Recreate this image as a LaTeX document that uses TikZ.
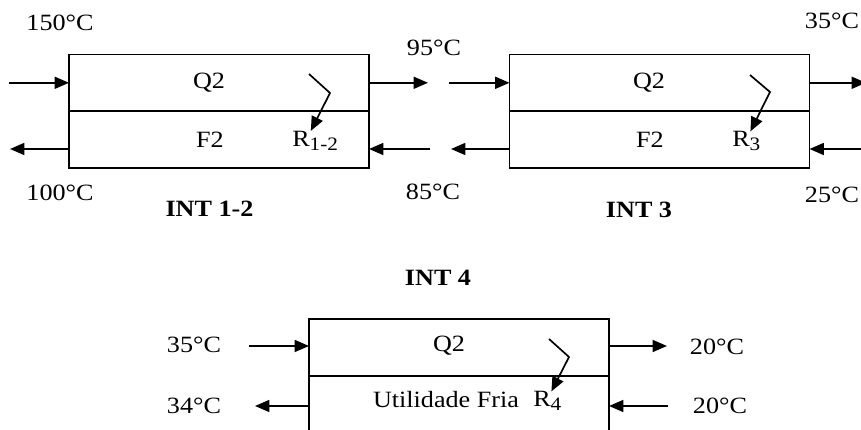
\documentclass[tikz,border=0pt]{standalone}
\usepackage{fontspec}
\setmainfont{Liberation Serif}[FakeStretch=1.12]
\usepackage{tikz}
\usetikzlibrary{arrows.meta, positioning}

\tikzset{
  metade/.style={draw, line width=1.2pt, outer sep=0pt, inner sep=0pt,
    minimum width=7.5cm, minimum height=1.42cm},
  fluxo/.style={line width=1.2pt, -{Triangle[length=3.6mm, width=3mm]}},
  rres/.style={inner sep=0pt, anchor=base west},
}
\newcommand{\rsub}[1]{R\raisebox{-0.1cm}{\fontsize{13.5}{15}\selectfont #1}}

\begin{document}
\begin{tikzpicture}[font=\fontsize{16.6}{19}\selectfont]
    \useasboundingbox (0,0) rectangle (21.525,10.75);
    \clip (0,0) rectangle (21.525,10.75);

    % Trocador INT 1-2
    \node[metade] (q12) at (5.475,8.68) {};
    \node[metade, below=0pt of q12] (f12) {};
    \node (lq12) at (5.225,8.68) {Q2};
    \node (lf12) at (5.25,7.25) {F2};
    \node[rres] (r12) at (7.3,7.0875) {\rsub{1-2}};
    \coordinate (s12) at (7.725,8.9);
    \draw[fluxo] (s12) -- ++(0.525,-0.475) -- ([xshift=0.47cm]r12.north west);

    \coordinate (a1) at (0.225,8.68);
    \coordinate (b1) at (0.25,7.025);
    \coordinate (c1) at (10.7,8.68);
    \coordinate (d1) at (10.75,7.025);
    \draw[fluxo] (a1) -- (a1 -| q12.west);
    \draw[fluxo] (b1 -| f12.west) -- (b1);
    \draw[fluxo] (c1 -| q12.east) -- (c1);
    \draw[fluxo] (d1) -- (d1 -| f12.east);

    \node (t150) at (1.5,10.175) {150°C};
    \node (t100) at (1.5,5.925) {100°C};
    \node (t95) at (10.85,9.55) {95°C};
    \node (t85) at (10.825,5.95) {85°C};
    \node[font=\fontsize{16.6}{19}\selectfont\bfseries] (int12) at (5.2375,5.525) {INT 1-2};

    % Trocador INT 3
    \node[metade] (q3) at (16.4875,8.68) {};
    \node[metade, below=0pt of q3] (f3) {};
    \node (lq3) at (16.225,8.68) {Q2};
    \node (lf3) at (16.25,7.25) {F2};
    \node[rres] (r3) at (18.3,7.075) {\rsub{3}};
    \coordinate (s3) at (18.75,8.875);
    \draw[fluxo] (s3) -- ++(0.5,-0.425) -- ([xshift=0.46cm]r3.north west);

    \coordinate (a2) at (11.225,8.68);
    \coordinate (b2) at (11.275,7.025);
    \coordinate (c2) at (21.65,8.68);
    \coordinate (d2) at (21.65,7.025);
    \draw[fluxo] (a2) -- (a2 -| q3.west);
    \draw[fluxo] (b2 -| f3.west) -- (b2);
    \draw[fluxo] (c2 -| q3.east) -- (c2);
    \draw[fluxo] (d2) -- (d2 -| f3.east);

    \node (t35a) at (20.8,10.225) {35°C};
    \node (t25) at (20.8,5.875) {25°C};
    \node[font=\fontsize{16.6}{19}\selectfont\bfseries] (int3) at (15.975,5.5) {INT 3};

    % Trocador INT 4
    \node[font=\fontsize{16.6}{19}\selectfont\bfseries] (int4) at (10.95,3.8) {INT 4};
    \node[metade] (q4) at (11.475,2.0625) {};
    \node[metade, below=0pt of q4] (f4) {};
    \node (lq4) at (11.225,2.1) {Q2};
    \node (lf4) at (11.15,0.7625) {Utilidade Fria};
    \node[rres] (r4) at (13.325,0.575) {\rsub{4}};
    \coordinate (s4) at (13.725,2.275);
    \draw[fluxo] (s4) -- ++(0.5,-0.45) -- ([xshift=0.46cm]r4.north west);

    \coordinate (a3) at (6.225,2.1);
    \coordinate (b3) at (6.375,0.6);
    \coordinate (c3) at (16.675,2.1);
    \coordinate (d3) at (16.7,0.6);
    \draw[fluxo] (a3) -- (a3 -| q4.west);
    \draw[fluxo] (b3 -| f4.west) -- (b3);
    \draw[fluxo] (c3 -| q4.east) -- (c3);
    \draw[fluxo] (d3) -- (d3 -| f4.east);

    \node (t35b) at (4.85,2.125) {35°C};
    \node (t34) at (4.85,0.6) {34°C};
    \node (t20a) at (17.925,2.075) {20°C};
    \node (t20b) at (18.0,0.6) {20°C};
\end{tikzpicture}
\end{document}
